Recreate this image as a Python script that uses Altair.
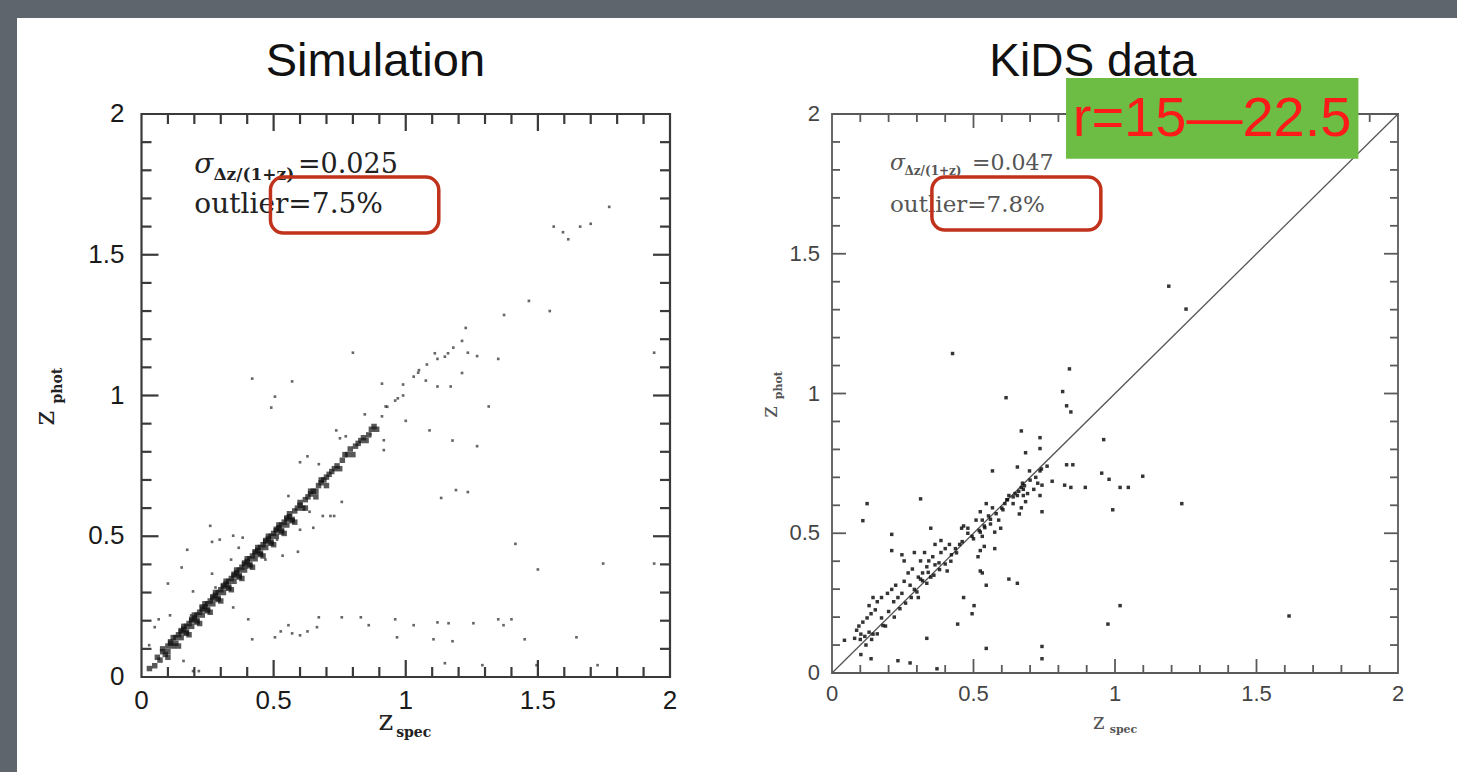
import altair as alt
import pandas as pd

# ---------------- data ----------------
# Simulation panel: dense ridge along the diagonal
sim_ridge_x = [0.03,0.05,0.06,0.07,0.08,0.09,0.10,0.10,0.11,0.12,0.13,0.13,0.14,0.15,0.15,0.16,0.17,0.17,0.18,0.19,
               0.19,0.20,0.21,0.21,0.22,0.23,0.23,0.24,0.25,0.25,0.26,0.27,0.27,0.28,0.29,0.29,0.30,0.31,0.31,0.32,
               0.33,0.33,0.34,0.35,0.35,0.36,0.37,0.37,0.38,0.39,0.39,0.40,0.41,0.41,0.42,0.43,0.43,0.44,0.45,0.45,
               0.46,0.47,0.47,0.48,0.49,0.49,0.50,0.51,0.51,0.52,0.53,0.53,0.54,0.55,0.55,0.56,0.57,0.58,0.59,0.60,
               0.61,0.62,0.63,0.64,0.65,0.66,0.67,0.68,0.69,0.70,0.71,0.73,0.74,0.76,0.78,0.79,0.81,0.83,0.84,0.86,0.88,
               0.08,0.10,0.12,0.14,0.16,0.18,0.20,0.22,0.24,0.26,0.28,0.30,0.32,0.34,0.36,0.38,0.40,0.42,0.44,0.46,
               0.48,0.50,0.52,0.54,0.56,0.58,0.60,0.62,0.64,0.66,0.68,0.70,0.72,0.75,0.77,0.80,0.82,0.85,0.87,0.89,
               0.11,0.15,0.19,0.23,0.27,0.31,0.35,0.39,0.43,0.47,0.51,0.55,
               0.17,0.21,0.25,0.29,0.33,0.37,0.41,0.45,0.49,0.53,0.57]
sim_ridge_y = [0.03,0.04,0.07,0.06,0.09,0.08,0.11,0.09,0.12,0.11,0.14,0.12,0.15,0.14,0.16,0.17,0.16,0.18,0.19,0.18,
               0.20,0.21,0.20,0.22,0.23,0.22,0.24,0.25,0.24,0.26,0.27,0.26,0.28,0.29,0.28,0.30,0.31,0.30,0.32,0.33,
               0.32,0.34,0.35,0.34,0.36,0.37,0.36,0.38,0.39,0.38,0.40,0.41,0.40,0.42,0.43,0.42,0.44,0.45,0.44,0.46,
               0.47,0.46,0.48,0.49,0.48,0.50,0.51,0.50,0.52,0.53,0.52,0.54,0.55,0.54,0.56,0.57,0.56,0.59,0.60,0.61,
               0.60,0.63,0.64,0.65,0.66,0.66,0.68,0.69,0.70,0.71,0.72,0.74,0.75,0.77,0.79,0.81,0.82,0.84,0.85,0.86,0.89,
               0.10,0.07,0.14,0.11,0.18,0.15,0.22,0.19,0.26,0.23,0.30,0.27,0.34,0.31,0.38,0.35,0.42,0.39,0.46,0.43,
               0.50,0.47,0.54,0.51,0.58,0.55,0.62,0.60,0.66,0.64,0.70,0.68,0.73,0.74,0.79,0.79,0.83,0.84,0.88,0.88,
               0.125,0.165,0.205,0.245,0.285,0.325,0.365,0.405,0.445,0.485,0.525,0.565,
               0.155,0.195,0.235,0.275,0.315,0.355,0.395,0.435,0.475,0.515,0.555]

# Simulation panel: scattered points
sim_x = [1.56,1.595,1.615,1.66,1.70,1.77,1.466,1.545,1.372,1.227,1.213,1.235,1.27,1.35,1.94,1.148,1.12,1.213,
         1.03,1.047,1.076,0.99,0.91,1.12,1.17,0.80,0.419,0.57,0.505,0.491,1.314,1.09,1.177,1.27,1.0,0.917,
         1.134,1.19,1.235,1.415,1.50,1.747,1.94,
         0.671,0.758,0.83,0.86,0.96,1.03,1.12,1.162,1.256,1.37,1.40,1.35,
         0.419,0.505,0.57,0.628,0.664,0.60,0.527,0.404,0.556,0.967,1.105,1.177,1.45,1.646,
         1.148,1.29,1.495,1.726,0.159,0.195,0.217,
         0.26,0.267,0.296,0.347,0.383,0.173,0.152,0.10,0.267,0.28,0.195,0.224,0.05,0.065,0.108,0.029,
         0.556,0.628,0.60,0.671,0.758,0.715,0.65,0.60,0.636,0.686,0.729,0.513,0.592,0.534,0.469,0.397,0.368,0.339,0.347,0.188,
         0.845,0.751,0.773,0.737,0.881,0.917,0.866,0.91,0.924,0.96,0.99,
         0.93,0.97,1.05,1.08,1.11,1.16,1.18]
sim_y = [1.60,1.58,1.555,1.60,1.61,1.67,1.336,1.30,1.286,1.24,1.194,1.152,1.14,1.13,1.152,1.138,1.13,1.08,
         1.067,1.081,1.053,1.039,1.042,1.032,1.032,1.152,1.06,1.05,0.996,0.957,0.961,0.876,0.84,0.82,0.91,0.806,
         0.636,0.664,0.657,0.473,0.382,0.403,0.403,
         0.212,0.212,0.212,0.184,0.205,0.184,0.194,0.191,0.191,0.184,0.205,0.205,
         0.134,0.141,0.155,0.162,0.177,0.148,0.162,0.205,0.184,0.141,0.134,0.127,0.134,0.141,
         0.049,0.042,0.042,0.042,0.057,0.021,0.021,
         0.537,0.48,0.488,0.502,0.495,0.452,0.389,0.332,0.367,0.318,0.304,0.254,0.177,0.205,0.219,0.113,
         0.643,0.784,0.763,0.756,0.622,0.572,0.53,0.523,0.587,0.572,0.572,0.488,0.445,0.431,0.417,0.389,0.459,0.417,0.247,0.219,
         0.933,0.848,0.855,0.876,0.883,0.841,0.862,0.926,0.961,0.982,1.0,
         0.96,0.99,1.09,1.11,1.15,1.15,1.17]

# KiDS panel points
kids_x = [1.19,1.251,0.426,0.839,0.815,0.829,0.844,0.615,
          0.96,0.953,0.979,1.018,1.047,1.098,1.236,0.992,
          0.829,0.851,0.822,0.844,0.895,0.778,
          0.735,0.669,0.684,0.735,0.655,0.698,0.735,0.567,
          0.669,0.676,0.684,0.669,0.662,0.727,0.742,0.735,0.713,0.647,0.625,0.618,0.604,0.64,0.655,0.742,0.676,0.673,0.691,
          0.524,0.531,0.538,0.524,0.531,0.538,0.524,0.553,0.56,0.575,0.575,0.567,0.589,0.596,0.545,0.611,0.509,0.48,0.465,0.495,0.516,0.531,0.545,0.524,
          0.313,0.124,0.109,
          0.044,0.08,0.087,0.102,0.116,0.131,0.145,0.095,0.109,0.124,0.138,0.153,0.16,0.145,0.131,0.175,0.189,0.175,0.196,0.211,
          0.218,0.233,0.247,0.225,0.255,0.276,0.291,0.305,0.269,0.284,0.305,0.32,0.335,0.342,0.356,0.364,0.378,0.385,0.40,0.415,
          0.422,0.436,0.451,0.327,0.313,0.247,0.255,0.211,0.211,0.349,0.291,0.364,0.313,0.335,0.349,0.385,0.407,0.458,
          0.10,0.12,0.14,0.16,0.18,0.20,0.22,0.24,0.26,0.28,0.30,0.32,0.34,0.36,0.38,0.40,0.42,0.44,0.46,0.48,0.50,0.52,0.54,
          0.56,0.58,0.60,0.62,0.64,0.66,0.68,0.70,0.72,0.74,0.76,
          0.102,0.138,0.233,0.276,0.335,0.371,0.444,0.465,0.495,0.502,0.545,0.625,0.655,0.742,0.742,0.975,1.018,1.615]
kids_y = [1.384,1.302,1.143,1.088,1.007,0.956,0.934,0.985,
          0.835,0.715,0.693,0.664,0.664,0.704,0.606,0.584,
          0.745,0.745,0.672,0.664,0.664,0.686,
          0.842,0.866,0.788,0.803,0.737,0.723,0.723,0.723,
          0.664,0.635,0.613,0.591,0.569,0.679,0.672,0.635,0.657,0.642,0.635,0.62,0.584,0.606,0.635,0.577,0.657,0.679,0.642,
          0.577,0.547,0.526,0.504,0.489,0.453,0.438,0.562,0.533,0.504,0.445,0.591,0.547,0.518,0.606,0.606,0.547,0.518,0.526,0.489,0.416,0.358,0.314,0.365,
          0.623,0.606,0.545,
          0.117,0.124,0.153,0.139,0.131,0.146,0.139,0.168,0.182,0.197,0.212,0.226,0.255,0.27,0.241,0.197,0.168,0.27,0.285,0.299,
          0.255,0.27,0.285,0.314,0.328,0.314,0.299,0.27,0.358,0.372,0.343,0.358,0.38,0.401,0.416,0.387,0.394,0.431,0.445,0.46,
          0.423,0.445,0.46,0.431,0.401,0.423,0.401,0.438,0.496,0.518,0.431,0.46,0.336,0.321,0.343,0.474,0.365,0.518,
          0.12,0.10,0.12,0.14,0.17,0.22,0.20,0.23,0.25,0.27,0.29,0.33,0.36,0.35,0.37,0.39,0.40,0.43,0.47,0.50,0.48,0.51,0.52,
          0.55,0.57,0.59,0.62,0.63,0.65,0.67,0.69,0.70,0.73,0.74,
          0.066,0.051,0.044,0.036,0.124,0.015,0.175,0.27,0.212,0.241,0.088,0.336,0.321,0.095,0.051,0.175,0.241,0.204]

tick_minor = [0.1,0.2,0.3,0.4,0.6,0.7,0.8,0.9,1.1,1.2,1.3,1.4,1.6,1.7,1.8,1.9]
tick_major = [0.5,1.0,1.5]
label_vals = [0,0.5,1,1.5,2]
label_text = ["0","0.5","1","1.5","2"]

diag = [0,2]

sim_ridge = pd.DataFrame({"x": sim_ridge_x, "y": sim_ridge_y})
sim_pts = pd.DataFrame({"x": sim_x, "y": sim_y})
kids_pts = pd.DataFrame({"x": kids_x, "y": kids_y})
minor_df = pd.DataFrame({"v": tick_minor})
major_df = pd.DataFrame({"v": tick_major})
lab_df = pd.DataFrame({"v": label_vals, "t": label_text})
one_df = pd.DataFrame({"k": [0]})
diag_df = pd.DataFrame({"x": diag, "y": diag})

SERIF = "DejaVu Serif"
SANS = "Liberation Sans"


def XF(f, s):
    return alt.X(f, scale=s, axis=None)


def YF(f, s):
    return alt.Y(f, scale=s, axis=None)


def XD(v, s):
    return alt.XDatum(v, scale=s, axis=None)


def YD(v, s):
    return alt.YDatum(v, scale=s, axis=None)


def frame_and_ticks(xs, ys, color, sw, major_len, minor_len, lab_size, lab_color, lab_dy, lab_dx):
    layers = []
    layers.append(alt.Chart(one_df).mark_rect(fillOpacity=0, stroke=color, strokeWidth=sw).encode(
        x=XD(0, xs), x2=alt.X2Datum(2), y=YD(0, ys), y2=alt.Y2Datum(2)))
    for df, ln in ((minor_df, minor_len), (major_df, major_len)):
        layers.append(alt.Chart(df).mark_rule(color=color, strokeWidth=sw, y2Offset=-ln).encode(
            x=XF("v:Q", xs), y=YD(0, ys), y2=alt.Y2Datum(0)))
        layers.append(alt.Chart(df).mark_rule(color=color, strokeWidth=sw, y2Offset=ln).encode(
            x=XF("v:Q", xs), y=YD(2, ys), y2=alt.Y2Datum(2)))
        layers.append(alt.Chart(df).mark_rule(color=color, strokeWidth=sw, x2Offset=ln).encode(
            y=YF("v:Q", ys), x=XD(0, xs), x2=alt.X2Datum(0)))
        layers.append(alt.Chart(df).mark_rule(color=color, strokeWidth=sw, x2Offset=-ln).encode(
            y=YF("v:Q", ys), x=XD(2, xs), x2=alt.X2Datum(2)))
    layers.append(alt.Chart(lab_df).mark_text(font=SANS, fontSize=lab_size, color=lab_color, dy=lab_dy,
                                              baseline="middle").encode(
        x=XF("v:Q", xs), y=YD(0, ys), text="t:N"))
    layers.append(alt.Chart(lab_df).mark_text(font=SANS, fontSize=lab_size, color=lab_color, dx=-lab_dx,
                                              align="right", baseline="middle").encode(
        y=YF("v:Q", ys), x=XD(0, xs), text="t:N"))
    return layers


def txt(xs, ys, x, y, text, **kw):
    return alt.Chart(one_df).mark_text(**kw).encode(
        x=XD(x, xs), y=YD(y, ys), text=alt.value(text))


def box(xs, ys, x0, x1, y0, y1, **kw):
    return alt.Chart(one_df).mark_rect(**kw).encode(
        x=XD(x0, xs), x2=alt.X2Datum(x1), y=YD(y0, ys), y2=alt.Y2Datum(y1))


# ---------------- left panel: Simulation ----------------
lxs = alt.Scale(domain=[0, 2], range=[141.5, 670], nice=False, zero=False)
lys = alt.Scale(domain=[0, 2], range=[677, 114], nice=False, zero=False)

left_layers = frame_and_ticks(lxs, lys, "#3a3a3a", 2.2, 17, 10, 26, "#1a1a1a", 24, 17)
left_layers += [
    alt.Chart(sim_ridge).mark_square(size=30, color="#111111", opacity=0.7).encode(
        x=XF("x:Q", lxs), y=YF("y:Q", lys)),
    alt.Chart(sim_pts).mark_square(size=7, color="#333333", opacity=0.75).encode(
        x=XF("x:Q", lxs), y=YF("y:Q", lys)),
    txt(lxs, lys, 0.885, 2.135, "Simulation", font=SANS, fontSize=47, color="#111111", baseline="alphabetic"),
    txt(lxs, lys, 0.2, 1.79, "σ", font=SERIF, fontSize=28, fontStyle="italic", color="#222222",
        align="left", baseline="alphabetic"),
    txt(lxs, lys, 0.272, 1.767, "Δz/(1+z)", font=SERIF, fontSize=17, fontWeight="bold", color="#222222",
        align="left", baseline="alphabetic"),
    txt(lxs, lys, 0.592, 1.79, "=0.025", font=SERIF, fontSize=27, color="#222222",
        align="left", baseline="alphabetic"),
    txt(lxs, lys, 0.2, 1.647, "outlier=7.5%", font=SERIF, fontSize=28, color="#222222",
        align="left", baseline="alphabetic"),
    box(lxs, lys, 0.488, 1.125, 1.776, 1.577, fillOpacity=0, stroke="#c0321c", strokeWidth=3.5, cornerRadius=13),
    txt(lxs, lys, -0.361, 0.92, "z", font=SERIF, fontSize=28, angle=270, color="#222222",
        align="center", baseline="middle"),
    txt(lxs, lys, -0.316, 1.035, "phot", font=SERIF, fontSize=14, fontWeight="bold", angle=270, color="#222222",
        align="center", baseline="middle"),
    txt(lxs, lys, 0.925, -0.16, "z", font=SERIF, fontSize=28, color="#222222", align="center", baseline="middle"),
    txt(lxs, lys, 1.03, -0.2, "spec", font=SERIF, fontSize=14, fontWeight="bold", color="#222222",
        align="center", baseline="middle"),
]
left = alt.layer(*left_layers)

# ---------------- right panel: KiDS data ----------------
rxs = alt.Scale(domain=[0, 2], range=[832, 1398], nice=False, zero=False)
rys = alt.Scale(domain=[0, 2], range=[673, 114], nice=False, zero=False)

right_layers = frame_and_ticks(rxs, rys, "#5a5a5a", 1.8, 14, 8, 22, "#444444", 21, 12)
right_layers += [
    alt.Chart(diag_df).mark_line(color="#555555", strokeWidth=1.3).encode(
        x=XF("x:Q", rxs), y=YF("y:Q", rys)),
    alt.Chart(kids_pts).mark_square(size=12, color="#111111", opacity=0.85).encode(
        x=XF("x:Q", rxs), y=YF("y:Q", rys)),
    txt(rxs, rys, 0.922, 2.136, "KiDS data", font=SANS, fontSize=46, color="#111111", baseline="alphabetic"),
    txt(rxs, rys, 0.205, 1.8, "σ", font=SERIF, fontSize=22, fontStyle="italic", color="#555555",
        align="left", baseline="alphabetic"),
    txt(rxs, rys, 0.256, 1.782, "Δz/(1+z)", font=SERIF, fontSize=12, fontWeight="bold", color="#555555",
        align="left", baseline="alphabetic"),
    txt(rxs, rys, 0.495, 1.8, "=0.047", font=SERIF, fontSize=22, color="#555555",
        align="left", baseline="alphabetic"),
    txt(rxs, rys, 0.205, 1.65, "outlier=7.8%", font=SERIF, fontSize=23, color="#555555",
        align="left", baseline="alphabetic"),
    box(rxs, rys, 0.353, 0.95, 1.775, 1.585, fillOpacity=0, stroke="#c0321c", strokeWidth=3.5, cornerRadius=13),
    box(rxs, rys, 0.827, 1.86, 2.129, 1.84, fill="#6dbd45"),
    txt(rxs, rys, 1.343, 1.92, "r=15—22.5", font=SANS, fontSize=56, color="#ff1a1a",
        align="center", baseline="alphabetic"),
    txt(rxs, rys, -0.219, 0.934, "z", font=SERIF, fontSize=22, angle=270, color="#555555",
        align="center", baseline="middle"),
    txt(rxs, rys, -0.187, 1.03, "phot", font=SERIF, fontSize=11, fontWeight="bold", angle=270, color="#555555",
        align="center", baseline="middle"),
    txt(rxs, rys, 0.943, -0.175, "z", font=SERIF, fontSize=22, color="#555555", align="center", baseline="middle"),
    txt(rxs, rys, 1.03, -0.205, "spec", font=SERIF, fontSize=11, fontWeight="bold", color="#555555",
        align="center", baseline="middle"),
]
right = alt.layer(*right_layers)

# white slide area
slide = alt.Chart(one_df).mark_rect(fill="white").encode(
    x=alt.value(17), x2=alt.value(1457), y=alt.value(18), y2=alt.value(772))

chart = alt.layer(slide, left, right).resolve_scale(x="independent", y="independent").properties(
    width=1457, height=772, padding=0, autosize=alt.AutoSizeParams(type="none"), background="#5e656d"
).configure_view(strokeWidth=0)

chart.save("out.html", embed_options={"renderer": "svg", "actions": False})
